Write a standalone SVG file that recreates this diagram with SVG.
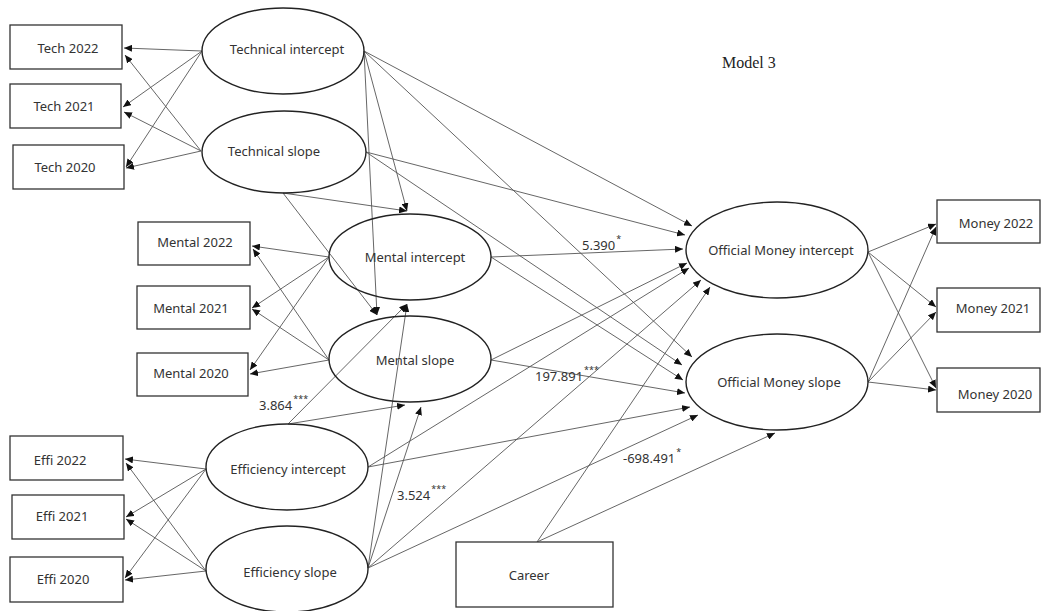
<svg xmlns="http://www.w3.org/2000/svg" width="1042" height="611" viewBox="0 0 1042 611">
<style>
.bg{fill:#fff}
.box{fill:#fff;stroke:#333;stroke-width:1.3}
.lat{fill:none;stroke:#222;stroke-width:1.4}
.t{font-family:"Noto Sans","Liberation Sans",Arial,sans-serif;font-size:13px;fill:#333;text-anchor:middle}
.lbl{font-family:"Noto Sans","Liberation Sans",Arial,sans-serif;font-size:13px;fill:#333}
.sup{font-size:9px}
.title{font-family:"Liberation Serif","Times New Roman",serif;font-size:16px;fill:#222}
#connectors line{stroke:#555;stroke-width:0.9;fill:none;marker-end:url(#ah)}
</style>
<defs>
<marker id="ah" markerUnits="userSpaceOnUse" markerWidth="8" markerHeight="7" refX="8" refY="3.5" orient="auto">
<path d="M0,0 L8,3.5 L0,7 z" fill="#111"/>
</marker>
</defs>
<rect class="bg" x="0" y="0" width="1042" height="611"/>
<g id="connectors">
<line x1="202" y1="51" x2="124" y2="48"/>
<line x1="202" y1="51" x2="123" y2="107"/>
<line x1="202" y1="51" x2="126" y2="167"/>
<line x1="201" y1="151" x2="125" y2="55"/>
<line x1="201" y1="151" x2="124" y2="112"/>
<line x1="201" y1="151" x2="126" y2="168"/>
<line x1="329" y1="257" x2="252" y2="246"/>
<line x1="329" y1="257" x2="252" y2="308"/>
<line x1="329" y1="257" x2="250" y2="370"/>
<line x1="329" y1="360" x2="253" y2="249"/>
<line x1="329" y1="360" x2="252" y2="309"/>
<line x1="329" y1="360" x2="250" y2="374"/>
<line x1="206" y1="469" x2="125" y2="459"/>
<line x1="206" y1="469" x2="126" y2="517"/>
<line x1="206" y1="469" x2="125" y2="578"/>
<line x1="206" y1="571" x2="126" y2="463"/>
<line x1="206" y1="571" x2="126" y2="519"/>
<line x1="206" y1="571" x2="125" y2="580"/>
<line x1="868" y1="252" x2="936" y2="224"/>
<line x1="868" y1="252" x2="936" y2="307"/>
<line x1="868" y1="252" x2="936" y2="388"/>
<line x1="868" y1="382" x2="936" y2="227"/>
<line x1="868" y1="382" x2="936" y2="312"/>
<line x1="868" y1="382" x2="936" y2="390"/>
<line x1="364" y1="51" x2="407" y2="211"/>
<line x1="364" y1="51" x2="377" y2="315"/>
<line x1="283" y1="193" x2="407" y2="211"/>
<line x1="283" y1="193" x2="377" y2="315"/>
<line x1="364" y1="51" x2="692" y2="226"/>
<line x1="364" y1="51" x2="692" y2="357"/>
<line x1="366" y1="152" x2="685" y2="235"/>
<line x1="366" y1="152" x2="682" y2="365"/>
<line x1="491" y1="257" x2="683" y2="249"/>
<line x1="491" y1="257" x2="683" y2="380"/>
<line x1="491" y1="360" x2="687" y2="263"/>
<line x1="491" y1="360" x2="685" y2="393"/>
<line x1="288" y1="424" x2="407" y2="304"/>
<line x1="288" y1="424" x2="405" y2="405"/>
<line x1="368" y1="568" x2="407" y2="304"/>
<line x1="368" y1="568" x2="421" y2="407"/>
<line x1="368" y1="467" x2="689" y2="268"/>
<line x1="368" y1="467" x2="690" y2="407"/>
<line x1="368" y1="568" x2="701" y2="280"/>
<line x1="368" y1="568" x2="698" y2="415"/>
<line x1="537" y1="542" x2="710" y2="287"/>
<line x1="537" y1="542" x2="775" y2="433"/>
</g>
<g id="tech2022"><rect class="box" x="10" y="25" width="112" height="44"/><text class="t" x="68" y="53">Tech 2022</text></g>
<g id="tech2021"><rect class="box" x="10" y="84" width="111" height="44"/><text class="t" x="64" y="111">Tech 2021</text></g>
<g id="tech2020"><rect class="box" x="13" y="145" width="111" height="44"/><text class="t" x="65" y="172">Tech 2020</text></g>
<g id="techInt"><ellipse class="lat" cx="283" cy="51" rx="81" ry="43"/><text class="t" x="287" y="54">Technical intercept</text></g>
<g id="techSlope"><ellipse class="lat" cx="284" cy="152" rx="82" ry="41"/><text class="t" x="274" y="156">Technical slope</text></g>
<g id="mental2022"><rect class="box" x="138" y="222" width="112" height="43"/><text class="t" x="195" y="247">Mental 2022</text></g>
<g id="mental2021"><rect class="box" x="137" y="286" width="113" height="43"/><text class="t" x="191" y="313">Mental 2021</text></g>
<g id="mental2020"><rect class="box" x="137" y="353" width="111" height="43"/><text class="t" x="191" y="378">Mental 2020</text></g>
<g id="mentInt"><ellipse class="lat" cx="410" cy="257" rx="81" ry="43"/><text class="t" x="415" y="262">Mental intercept</text></g>
<g id="mentSlope"><ellipse class="lat" cx="410" cy="359" rx="81" ry="43"/><text class="t" x="415" y="365">Mental slope</text></g>
<g id="effi2022"><rect class="box" x="10" y="436" width="113" height="44"/><text class="t" x="60" y="465">Effi 2022</text></g>
<g id="effi2021"><rect class="box" x="12" y="495" width="112" height="44"/><text class="t" x="62" y="521">Effi 2021</text></g>
<g id="effi2020"><rect class="box" x="10" y="557" width="113" height="45"/><text class="t" x="63" y="584">Effi 2020</text></g>
<g id="effInt"><ellipse class="lat" cx="287" cy="467" rx="81" ry="43"/><text class="t" x="288" y="474">Efficiency intercept</text></g>
<g id="effSlope"><ellipse class="lat" cx="287" cy="569" rx="81" ry="43"/><text class="t" x="290" y="577">Efficiency slope</text></g>
<g id="omInt"><ellipse class="lat" cx="777" cy="250" rx="91" ry="48"/><text class="t" x="781" y="255">Official Money intercept</text></g>
<g id="omSlope"><ellipse class="lat" cx="777" cy="382" rx="91" ry="48"/><text class="t" x="779" y="387">Official Money slope</text></g>
<g id="money2022"><rect class="box" x="937" y="200" width="103" height="43"/><text class="t" x="996" y="228">Money 2022</text></g>
<g id="money2021"><rect class="box" x="937" y="288" width="103" height="44"/><text class="t" x="993" y="313">Money 2021</text></g>
<g id="money2020"><rect class="box" x="937" y="368" width="103" height="44"/><text class="t" x="995" y="399">Money 2020</text></g>
<g id="career"><rect class="box" x="456" y="542" width="157" height="65"/><text class="t" x="529" y="580">Career</text></g>
<g id="labels">
<text class="lbl" x="582" y="250">5.390<tspan class="sup" dx="1" dy="-8">*</tspan></text>
<text class="lbl" x="535" y="381">197.891<tspan class="sup" dx="1" dy="-8">***</tspan></text>
<text class="lbl" x="259" y="410">3.864<tspan class="sup" dx="1" dy="-8">***</tspan></text>
<text class="lbl" x="397" y="500">3.524<tspan class="sup" dx="1" dy="-8">***</tspan></text>
<text class="lbl" x="623" y="463">-698.491<tspan class="sup" dx="1" dy="-8">*</tspan></text>
<text class="title" x="722" y="68">Model 3</text>
</g>
</svg>
